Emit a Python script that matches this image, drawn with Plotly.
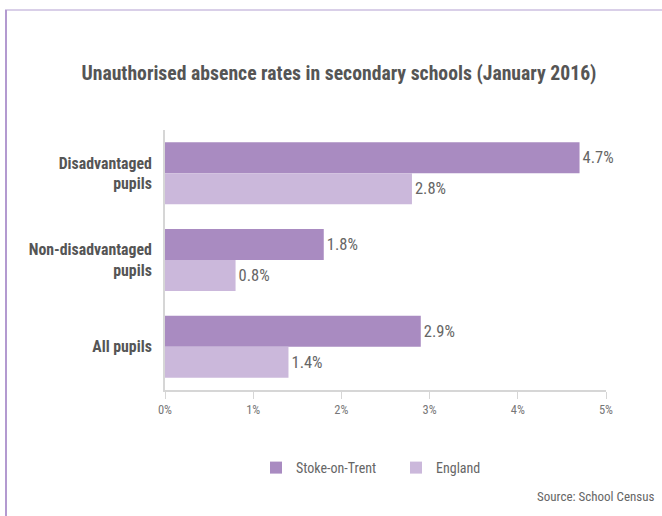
import plotly.graph_objects as go

# Absence data (per cent of sessions missed, unauthorised)
categories = ["Disadvantaged<br>pupils", "Non-disadvantaged<br>pupils", "All pupils"]
stoke_values = [4.7, 1.8, 2.9]
england_values = [2.8, 0.8, 1.4]
series_names = ["Stoke-on-Trent", "England"]
tick_values = [0, 1, 2, 3, 4, 5]
tick_labels = ["0%", "1%", "2%", "3%", "4%", "5%"]

W, H = 662, 516
ML, MR, MT, MB = 165, 56, 130, 126
PW, PH = W - ML - MR, H - MT - MB

FONT = "Liberation Sans Narrow, Roboto Condensed, Arial Narrow, Liberation Sans, sans-serif"


def px_x(x):
    return (x - ML) / PW


def px_y(y):
    return (H - MB - y) / PH


fig = go.Figure()
fig.add_trace(go.Bar(
    y=categories, x=stoke_values, orientation="h", name=series_names[0],
    marker=dict(color="#a98bc1", line=dict(width=0)),
    texttemplate="%{x:.1f}%", textposition="outside",
    textfont=dict(size=16.5, color="#666666", family=FONT), cliponaxis=False,
))
fig.add_trace(go.Bar(
    y=categories, x=england_values, orientation="h", name=series_names[1],
    marker=dict(color="#cbb8db", line=dict(width=0)),
    texttemplate="%{x:.1f}%", textposition="outside",
    textfont=dict(size=16.5, color="#666666", family=FONT), cliponaxis=False,
))

fig.update_layout(
    width=W, height=H,
    margin=dict(l=ML, r=MR, t=MT, b=MB),
    paper_bgcolor="white", plot_bgcolor="white",
    barmode="group", bargap=0.285, bargroupgap=0,
    font=dict(family=FONT, color="#666666"),
    title=dict(
        text="<b>Unauthorised absence rates in secondary schools (January 2016)</b>",
        x=339 / W, xanchor="center", y=1 - 73 / H, yanchor="middle",
        font=dict(size=19.7, color="#555555", family=FONT),
    ),
    xaxis=dict(
        range=[0, 5], tickvals=tick_values, ticktext=tick_labels,
        showgrid=False, zeroline=False,
        showline=True, linecolor="#d6d6d6", linewidth=2,
        ticks="outside", ticklen=7, tickcolor="#d6d6d6", tickwidth=1,
        tickfont=dict(size=12.5, color="#777777", family=FONT),
    ),
    yaxis=dict(
        autorange="reversed", showgrid=False, zeroline=False,
        showline=True, linecolor="#d6d6d6", linewidth=2,
        ticks="", ticklabelstandoff=8,
        tickfont=dict(size=15.8, color="#555555", family=FONT),
    ),
    legend=dict(
        orientation="h", x=px_x(256), xanchor="left",
        y=px_y(468), yanchor="middle",
        font=dict(size=14, color="#666666", family=FONT),
        entrywidth=95, entrywidthmode="pixels",
        bgcolor="rgba(0,0,0,0)",
    ),
    showlegend=True,
)

# Bold category labels on the y axis
fig.update_yaxes(ticktext=[f"<b>{c}</b>" for c in categories], tickvals=categories)

fig.add_annotation(
    text="Source: School Census", xref="paper", yref="paper",
    x=px_x(657), y=px_y(497), xanchor="right", yanchor="middle",
    showarrow=False, font=dict(size=13, color="#666666", family=FONT),
)

# Frame lines along the top and left edges of the panel
fig.add_shape(type="line", xref="paper", yref="paper",
              x0=px_x(5), x1=px_x(W), y0=px_y(10), y1=px_y(10),
              line=dict(color="#cdbfe0", width=1.5))
fig.add_shape(type="line", xref="paper", yref="paper",
              x0=px_x(6), x1=px_x(6), y0=px_y(10), y1=px_y(H),
              line=dict(color="#b39ad0", width=2))

fig.write_html("out.html")
